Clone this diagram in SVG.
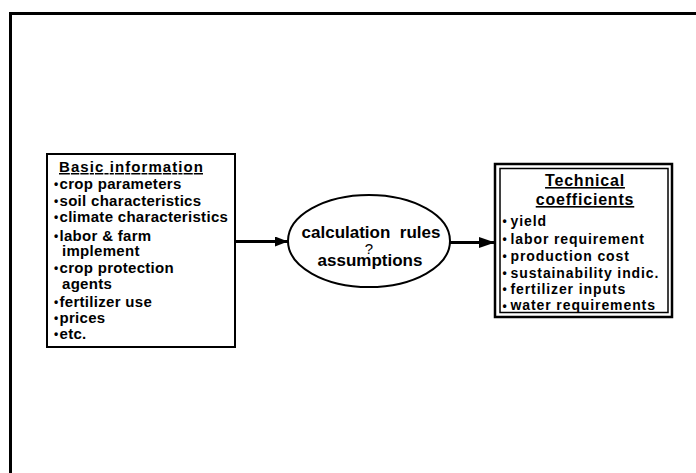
<svg xmlns="http://www.w3.org/2000/svg" width="696" height="473" viewBox="0 0 696 473">
<style>
text{font-family:"Liberation Sans",Arial,Helvetica,sans-serif;font-weight:bold;fill:#000}
.item{font-size:15px;letter-spacing:0.3px}
.ritem{font-size:14px;letter-spacing:0.9px}
.head{font-size:15px;text-decoration:underline}
.rhead{font-size:16px;letter-spacing:0.8px;text-decoration:underline;text-anchor:middle}
.ell{font-size:17px;text-anchor:middle}
.q{font-size:15px;font-weight:normal;text-anchor:middle}
.bul{font-size:12px;letter-spacing:0}
.box{fill:#fff;stroke:#000}
.conn{stroke:#000;stroke-width:3;fill:none}
</style>
<defs>
<marker id="ah1" markerUnits="userSpaceOnUse" markerWidth="14" markerHeight="10" refX="13" refY="5" orient="auto">
<path d="M0,0 L13,5 L0,10 Z" fill="#000"/>
</marker>
<marker id="ah2" markerUnits="userSpaceOnUse" markerWidth="17" markerHeight="11" refX="16" refY="5.5" orient="auto">
<path d="M0,0 L16,5.5 L0,11 Z" fill="#000"/>
</marker>
</defs>
<rect width="696" height="473" fill="#fff"/>
<path d="M10.5,473 V13.5 H696" fill="none" stroke="#000" stroke-width="3"/>
<g id="basic-info">
<rect class="box" x="47" y="154" width="188" height="193" stroke-width="2"/>
<text class="head" x="59" y="172" textLength="144" lengthAdjust="spacing">Basic information</text>
<g class="item">
<text class="bul" x="54" y="188">•</text><text x="59.5" y="189">crop parameters</text>
<text class="bul" x="54" y="204.5">•</text><text x="59.5" y="205.5">soil characteristics</text>
<text class="bul" x="54" y="221">•</text><text x="59.5" y="222">climate characteristics</text>
<text class="bul" x="54" y="239.5">•</text><text x="59.5" y="240.5">labor &amp; farm</text>
<text x="62" y="256">implement</text>
<text class="bul" x="54" y="271.5">•</text><text x="59.5" y="272.5">crop protection</text>
<text x="62" y="289">agents</text>
<text class="bul" x="54" y="305.5">•</text><text x="59.5" y="306.5">fertilizer use</text>
<text class="bul" x="54" y="321.5">•</text><text x="59.5" y="322.5">prices</text>
<text class="bul" x="54" y="337.5">•</text><text x="59.5" y="338.5">etc.</text>
</g>
</g>
<g id="calculation">
<ellipse cx="369" cy="241" rx="81" ry="46" fill="#fff" stroke="#000" stroke-width="2"/>
<text class="ell" x="371" y="237.5" xml:space="preserve">calculation  rules</text>
<text class="q" x="369" y="253.5">?</text>
<text class="ell" x="370" y="266">assumptions</text>
</g>
<g id="technical-coefficients">
<rect class="box" x="495" y="164" width="177" height="153" stroke-width="2.5"/>
<rect class="box" x="500" y="168.5" width="168" height="144" stroke-width="1.5"/>
<text class="rhead" x="585" y="186">Technical</text>
<text class="rhead" x="585" y="205">coefficients</text>
<g class="ritem">
<text class="bul" x="502.5" y="225">•</text><text x="510.5" y="226">yield</text>
<text class="bul" x="502.5" y="243">•</text><text x="510.5" y="244">labor requirement</text>
<text class="bul" x="502.5" y="260">•</text><text x="510.5" y="261">production cost</text>
<text class="bul" x="502.5" y="276.5">•</text><text x="510.5" y="277.5">sustainability indic.</text>
<text class="bul" x="502.5" y="293">•</text><text x="510.5" y="294">fertilizer inputs</text>
<text class="bul" x="502.5" y="309.5">•</text><text x="510.5" y="310">water requirements</text>
</g>
</g>
<g id="connectors">
<line class="conn" x1="236" y1="241.5" x2="288" y2="241.5" marker-end="url(#ah1)"/>
<line class="conn" x1="450" y1="242.5" x2="495" y2="242.5" marker-end="url(#ah2)"/>
</g>
</svg>
